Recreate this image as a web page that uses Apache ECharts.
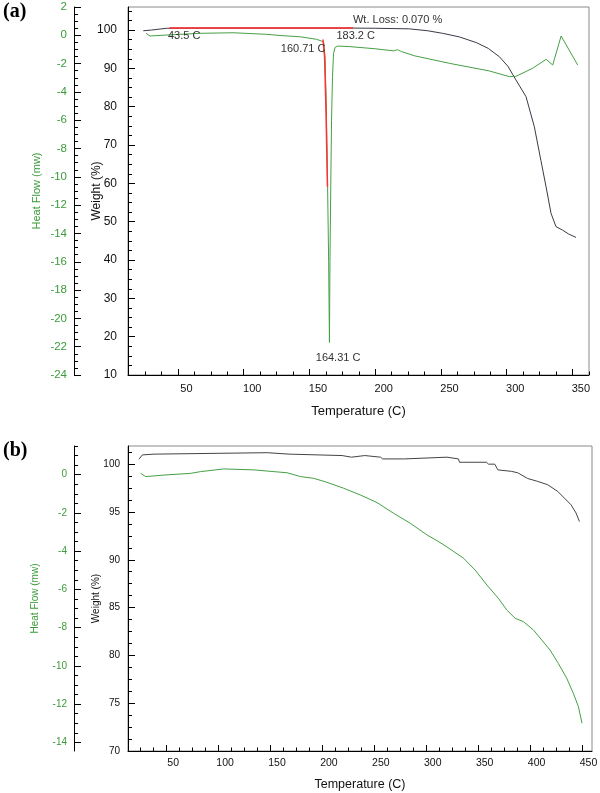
<!DOCTYPE html>
<html><head><meta charset="utf-8">
<script src="https://cdn.jsdelivr.net/npm/echarts@6/dist/echarts.min.js"></script>
<style>html,body{margin:0;padding:0;background:#fff}#c{width:600px;height:793px}</style>
</head><body><div id="c"></div>
<script>
// ---------- Panel (a) ----------
const heatTempA = [25.7, 28.7, 41.4, 66.7, 92, 117.3, 130, 142.6, 155.3, 159.1, 160.8, 161.8, 162.8, 163.8, 164.6, 165.2, 165.6, 166.2, 166.8, 167.5, 168.3, 169.5, 171.5, 180.6, 200, 214, 217, 220, 230, 256.5, 286.9, 302, 307, 319.7, 330, 335, 341.4, 354];
const heatFlowA = [0.14, -0.05, 0.02, 0.14, 0.18, 0.07, -0.03, -0.1, -0.28, -0.4, -0.5, -1.5, -5, -10.7, -16, -21.7, -16, -10.7, -6, -3, -1.3, -0.85, -0.76, -0.8, -0.95, -1.1, -1.02, -1.15, -1.45, -1.98, -2.52, -2.92, -2.9, -2.33, -1.7, -2.1, -0.05, -2.1];
const weightTempA = [23.6, 30, 41.4, 60, 100, 150, 183.2, 200, 226, 240, 251, 264, 277, 286, 294.5, 301, 307, 314.7, 321, 326, 330, 333.7, 337.5, 342.5, 347, 352.7];
const weightA = [99.8, 100.0, 100.45, 100.5, 100.5, 100.5, 100.5, 100.45, 100.3, 99.8, 99.15, 98.2, 96.7, 95.2, 93, 90.5, 87, 82.6, 74.8, 66, 59, 52.2, 48.7, 47.8, 46.8, 45.9];
const lossStepTempA = [43.5, 183.2];
const lossStepWeightA = [100.5, 100.5];
const onsetTempA = [160.3, 161.5, 162.5, 163.7];
const onsetHeatA = [-0.3, -1.5, -5, -10.7];
const annotTextA = ['43.5 C', '160.71 C', '183.2 C', 'Wt. Loss: 0.070 %', '164.31 C'];
const annotTempA = [42.4, 128.2, 170.5, 183.1, 154.8];
const annotWeightA = [98.44, 95.05, 98.44, 102.6, 14.4];
const xTicksA = [50, 100, 150, 200, 250, 300, 350];
const heatTicksA = [2, 0, -2, -4, -6, -8, -10, -12, -14, -16, -18, -20, -22, -24];
const weightTicksA = [10, 20, 30, 40, 50, 60, 70, 80, 90, 100];

// ---------- Panel (b) ----------
const heatTempB = [25, 29.8, 47.4, 73.1, 82.7, 105, 134, 153.2, 166, 178.9, 191.6, 204.5, 220.5, 236.5, 252.6, 268.6, 284.6, 300.7, 310.3, 320, 335.9, 347.1, 358.4, 369.5, 377.6, 385.6, 393.6, 403.2, 411.3, 419.2, 427.2, 435.3, 441.6, 446.5, 450];
const heatFlowB = [0.07, -0.1, -0.02, 0.07, 0.16, 0.3, 0.25, 0.16, 0.1, -0.1, -0.19, -0.4, -0.71, -1.06, -1.46, -2.02, -2.54, -3.15, -3.45, -3.78, -4.37, -4.99, -5.77, -6.47, -7.08, -7.51, -7.69, -8.12, -8.65, -9.17, -9.87, -10.65, -11.43, -12.13, -13.0];
const weightTempB = [23.4, 26.6, 37.8, 39.4, 146.8, 148, 168, 169.2, 219, 220, 228, 229.6, 240.8, 242, 256, 258, 279, 280, 320, 321, 331, 332, 358, 360, 366, 369, 382, 388, 397.7, 407.3, 416.9, 426.6, 433, 439.4, 444.2, 447.5];
const weightB = [100.52, 100.97, 101.05, 101.2, 101.2, 101.05, 101.05, 100.9, 100.9, 100.73, 100.73, 100.9, 100.9, 100.73, 100.73, 100.55, 100.55, 100.73, 100.73, 100.55, 100.55, 100.2, 100.2, 100.0, 100.0, 99.4, 99.25, 99.1, 98.5, 98.2, 97.85, 97.15, 96.45, 95.75, 94.9, 94.0];
const xTicksB = [50, 100, 150, 200, 250, 300, 350, 400, 450];
const heatTicksB = [0, -2, -4, -6, -8, -10, -12, -14];
const weightTicksB = [70, 75, 80, 85, 90, 95, 100];

// ---------- helpers ----------
const FONT = '"Liberation Sans", Arial, sans-serif';
const GREEN = '#3b9b3b';
function pairs(xs, ys) { return xs.map((x, i) => [x, ys[i]]); }
function minorTicks(min, max, step, major) {
  const out = [];
  const start = Math.ceil(min / step - 1e-9);
  for (let k = start; k * step <= max + 1e-9; k++) {
    const v = Math.round(k * step * 1000) / 1000;
    const q = v / major;
    if (Math.abs(q - Math.round(q)) > 1e-6) out.push(v);
  }
  return out;
}
function xAxisPair(grid, min, max, majors, minorStep, majorStep, fs, margin, padL, nameGap, nameFs) {
  return [{
    type: 'value', gridIndex: grid, min, max, position: 'bottom',
    axisLine: { show: true, onZero: false, lineStyle: { color: '#000', width: 1 } },
    axisTick: { show: true, inside: true, length: 6, customValues: majors, lineStyle: { color: '#000' } },
    axisLabel: { show: true, customValues: majors, fontSize: fs, fontFamily: FONT, color: '#111', margin, padding: [0, 0, 0, padL] },
    splitLine: { show: false },
    name: 'Temperature (C)', nameLocation: 'middle', nameGap, nameMoveOverlap: false,
    nameTextStyle: { fontSize: nameFs, fontFamily: FONT, color: '#111' }
  }, {
    type: 'value', gridIndex: grid, min, max, position: 'bottom',
    axisLine: { show: false, onZero: false },
    axisTick: { show: true, inside: true, length: 3.5, customValues: minorTicks(min, max, minorStep, majorStep), lineStyle: { color: '#000' } },
    axisLabel: { show: false }, splitLine: { show: false }
  }];
}
function yAxisPair(grid, min, max, majors, minorStep, majorStep, offset, color, fs, margin, name, nameGap, nameFs) {
  return [{
    type: 'value', gridIndex: grid, min, max, position: 'left', offset,
    axisLine: { show: true, onZero: false, lineStyle: { color: '#000', width: 1 } },
    axisTick: { show: true, inside: true, length: 7, customValues: majors, lineStyle: { color: '#000' } },
    axisLabel: { show: true, customValues: majors, fontSize: fs, fontFamily: FONT, color, margin },
    splitLine: { show: false },
    name, nameLocation: 'middle', nameGap, nameMoveOverlap: false,
    nameTextStyle: { fontSize: nameFs, fontFamily: FONT, color }
  }, {
    type: 'value', gridIndex: grid, min, max, position: 'left', offset,
    axisLine: { show: false, onZero: false },
    axisTick: { show: true, inside: true, length: 4, customValues: minorTicks(min, max, minorStep, majorStep), lineStyle: { color: '#000' } },
    axisLabel: { show: false }, splitLine: { show: false }
  }];
}

const chart = echarts.init(document.getElementById('c'), null, { renderer: 'canvas' });

const xAxes = [
  ...xAxisPair(0, 12, 362.6, xTicksA, 12.5, 50, 11, 8, 17, 30, 13),
  ...xAxisPair(1, 12.8, 459.6, xTicksB, 12.5, 50, 10.5, 7, 13, 27, 12.5)
];
const yAxes = [
  ...yAxisPair(0, 10, 106, weightTicksA, 2.5, 10, 0, '#111', 12, 11, 'Weight (%)', 25, 12),
  ...yAxisPair(0, -24, 2, heatTicksA, 0.5, 2, 54, GREEN, 11.5, 7, 'Heat Flow (mw)', 31.5, 11),
  ...yAxisPair(1, 70, 101.9, weightTicksB, 1.25, 5, 0, '#111', 10, 8, 'Weight (%)', 27, 10),
  ...yAxisPair(1, -14.45, 1.5, heatTicksB, 0.5, 2, 54, GREEN, 10, 7, 'Heat Flow (mw)', 34, 10)
];

const line = (xi, yi, data, color, width, z) => ({
  type: 'line', xAxisIndex: xi, yAxisIndex: yi, data, showSymbol: false, symbol: 'none',
  lineStyle: { color, width }, z: z || 2, silent: true, animation: false
});

const weightSeriesA = line(0, 0, pairs(weightTempA, weightA), '#3a3a48', 1, 2);
weightSeriesA.markPoint = {
  symbol: 'circle', symbolSize: 1, itemStyle: { color: 'rgba(0,0,0,0)' }, animation: false,
  label: { show: true, position: 'inside', align: 'left', verticalAlign: 'middle', color: '#333', fontSize: 11, fontFamily: FONT, formatter: p => p.name },
  data: annotTextA.map((t, i) => ({ name: t, coord: [annotTempA[i], annotWeightA[i]] }))
};

chart.setOption({
  animation: false,
  backgroundColor: '#fff',
  grid: [
    { left: 128, top: 7, width: 461, height: 368, show: true, borderColor: '#8a8a8a', borderWidth: 1, outerBoundsMode: 'none' },
    { left: 128, top: 446, width: 464, height: 305, show: true, borderColor: '#8a8a8a', borderWidth: 1, outerBoundsMode: 'none' }
  ],
  xAxis: xAxes,
  yAxis: yAxes,
  graphic: [
    { type: 'text', left: 3, top: 2, style: { text: '(a)', font: 'bold 20px "Liberation Serif", serif', fill: '#000' } },
    { type: 'text', left: 3, top: 441, style: { text: '(b)', font: 'bold 20px "Liberation Serif", serif', fill: '#000' } }
  ],
  series: [
    weightSeriesA,
    line(0, 2, pairs(heatTempA, heatFlowA), '#45a045', 1, 3),
    line(0, 0, pairs(lossStepTempA, lossStepWeightA), '#ff2a2a', 1.5, 4),
    line(0, 2, pairs(onsetTempA, onsetHeatA), '#ff3030', 1.5, 4),
    line(2, 4, pairs(weightTempB, weightB), '#444', 1, 2),
    line(2, 6, pairs(heatTempB, heatFlowB), '#45a045', 1, 3)
  ]
});
</script>
</body></html>
